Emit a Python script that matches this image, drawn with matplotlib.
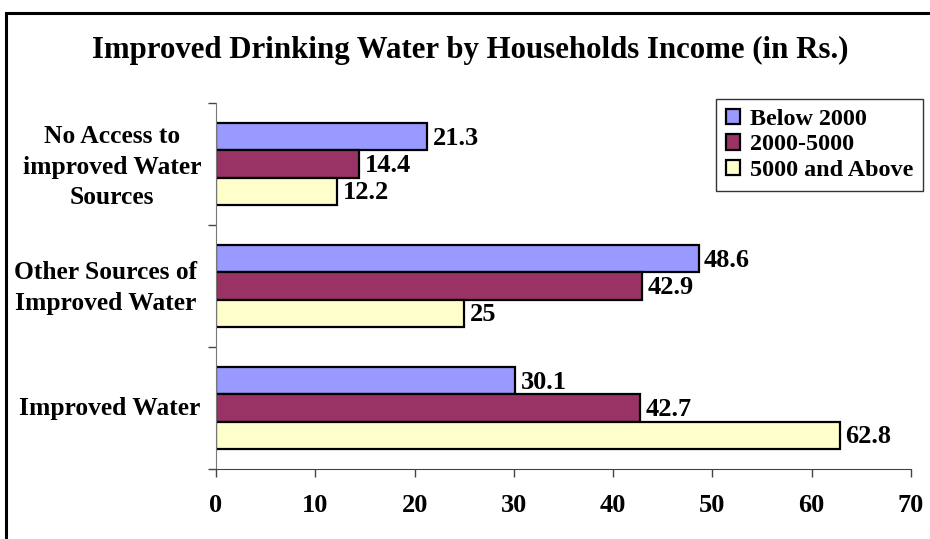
import matplotlib
matplotlib.use("Agg")
import matplotlib.pyplot as plt
import matplotlib.transforms as mtransforms
from matplotlib.patches import Rectangle

categories = ["Improved Water", "Other Sources of\nImproved Water", "No Access to\nimproved Water\nSources"]
series_names = ["Below 2000", "2000-5000", "5000 and Above"]
below_2000 = [30.1, 48.6, 21.3]
mid_2000_5000 = [42.7, 42.9, 14.4]
above_5000 = [62.8, 25, 12.2]
xticks = [0, 10, 20, 30, 40, 50, 60, 70]
title = "Improved Drinking Water by Households Income (in Rs.)"

colors = ["#9999FF", "#993366", "#FFFFCC"]
serif = ["Liberation Serif", "DejaVu Serif"]

fig = plt.figure(figsize=(9.30, 5.39), dpi=100)
ax = fig.add_axes([216/930, 1-469/539, (911-216)/930, (469-103)/539])

# figure border
fig.patches.append(Rectangle((6/930, -0.1), 1.2, 1 - 13/539 + 0.1, transform=fig.transFigure,
                             fill=False, edgecolor="black", linewidth=2.2, zorder=0))

h = 0.222
ys = range(len(categories))
offsets = [h, 0, -h]
for vals, off, col, name in zip([below_2000, mid_2000_5000, above_5000], offsets, colors, series_names):
    pos = [y + off for y in ys]
    bars = ax.barh(pos, vals, height=h, color=col, edgecolor="black", linewidth=1.6, label=name)
    for b, v in zip(bars, vals):
        txt = f"{v:g}"
        ax.annotate(txt, (b.get_width(), b.get_y() + b.get_height()/2), xytext=(4, -1),
                    textcoords="offset points", ha="left", va="center",
                    fontsize=19, fontweight="bold", family=serif)

ax.set_xlim(0, 70)
ax.set_ylim(-0.5, 2.5)
ax.set_xticks(xticks)
ax.set_xticklabels([str(t) for t in xticks], fontsize=19, fontweight="bold", family=serif)
ax.tick_params(axis="x", direction="out", length=6, width=1, color="#444444", pad=12)
ax.set_yticks([-0.5, 0.5, 1.5, 2.5])
ax.set_yticklabels([])
ax.tick_params(axis="y", direction="out", length=6, width=1, color="#444444")
ax.spines["top"].set_visible(False)
ax.spines["right"].set_visible(False)
ax.spines["left"].set_color("#777777")
ax.spines["bottom"].set_color("#444444")

trans = mtransforms.blended_transform_factory(fig.transFigure, ax.transData)
label_x = [110, 106, 112]
label_y = [0.0, -0.015, -0.025]
for y, lab, lx, dy in zip(ys, categories, label_x, label_y):
    ax.text(lx/930, y + dy, lab, transform=trans, ha="center", va="center", multialignment="center",
            fontsize=18.4, fontweight="bold", family=serif, linespacing=1.42)

fig.text(470/930, 1-50/539, title, ha="center", va="center", fontsize=22.2,
         fontweight="bold", family=serif)

leg = ax.legend(loc="upper right", bbox_to_anchor=(923/930, 1-99/539), bbox_transform=fig.transFigure,
                prop={"family": serif, "weight": "bold", "size": 17.4}, frameon=True, fancybox=False,
                edgecolor="black", handlelength=0.6, handleheight=0.6, handletextpad=0.4,
                borderpad=0.4, labelspacing=0.18, borderaxespad=0)
leg.get_frame().set_linewidth(1.0)

fig.savefig("out.png", dpi=100)
